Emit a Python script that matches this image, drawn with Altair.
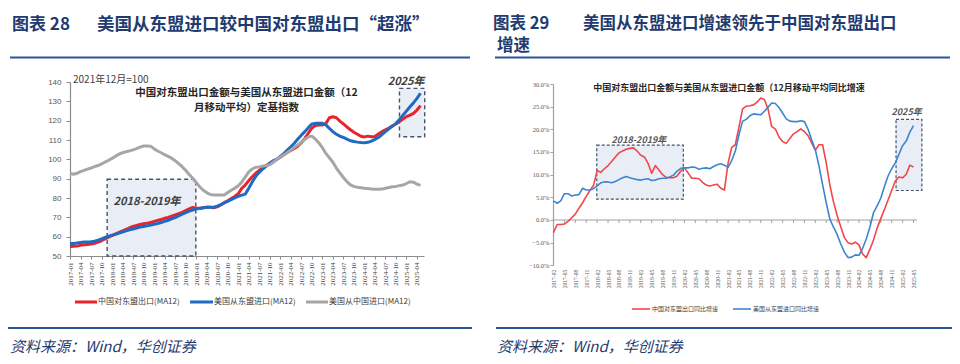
import altair as alt
import pandas as pd

# ---------------- data ----------------
# Left panel: monthly index, 2017-01 .. 2025-05 (2021-12 = 100), 12-month moving average
LEFT_MONTHS = [f"{2017 + i // 12}-{i % 12 + 1:02d}" for i in range(101)]
CN_EXPORT_ASEAN_IDX = [
    54.8, 55.0, 55.2, 55.5, 55.8, 56.0, 56.2, 56.6, 57.2, 57.9,
    58.8, 59.7, 60.6, 61.4, 62.2, 63.0, 63.8, 64.6, 65.3, 65.8,
    66.3, 66.7, 67.0, 67.4, 67.9, 68.4, 68.9, 69.5, 70.0, 70.6,
    71.2, 71.9, 72.6, 73.5, 74.4, 75.1, 74.8, 74.6, 75.0, 75.2,
    75.2, 75.0, 75.4, 76.4, 77.6, 78.6, 79.7, 80.8, 82.2, 85.0,
    86.7, 89.0, 91.0, 92.8, 94.3, 95.5, 96.8, 98.0, 99.0, 100.0,
    101.1, 102.4, 103.6, 104.6, 105.6, 106.8, 108.6, 110.8, 113.5, 116.2,
    117.5, 117.8, 117.8, 118.5, 121.5, 122.0, 121.5, 119.8, 118.3, 116.8,
    115.3, 114.0, 113.0, 111.9, 111.6, 112.0, 111.7, 111.8, 113.2, 114.3,
    115.3, 116.2, 117.3, 118.3, 119.6, 120.8, 122.1, 122.9, 123.8, 125.5,
    127.8]
US_IMPORT_ASEAN_IDX = [
    56.5, 56.5, 56.7, 57.0, 57.2, 57.3, 57.4, 57.7, 58.2, 58.8,
    59.6, 60.3, 60.8, 61.2, 61.8, 62.4, 63.0, 63.6, 64.0, 64.5,
    65.0, 65.3, 65.6, 66.0, 66.4, 66.8, 67.3, 67.9, 68.5, 69.2,
    69.9, 70.7, 71.6, 72.4, 73.2, 73.8, 74.3, 74.7, 75.0, 75.2,
    75.2, 75.2, 75.8, 76.6, 77.5, 78.3, 79.1, 80.0, 80.8, 81.5,
    82.0, 85.0, 88.3, 91.2, 93.3, 95.0, 96.5, 98.0, 99.3, 100.0,
    101.5, 103.0, 104.8, 106.5, 108.3, 110.5, 112.5, 114.3, 116.4, 118.3,
    118.6, 118.6, 118.6, 117.8, 116.0, 114.3, 113.0, 112.0, 111.3, 110.5,
    109.6, 109.2, 108.9, 108.7, 108.6, 108.8, 109.4, 110.3, 111.3, 112.8,
    114.3, 115.8, 117.2, 118.6, 120.6, 122.8, 125.0, 127.2, 129.2, 131.5,
    134.2]
US_IMPORT_CHINA_IDX = [
    92.8, 92.3, 92.8, 93.6, 94.3, 94.9, 95.5, 96.2, 96.8, 97.6,
    98.6, 99.5, 100.5, 101.6, 102.7, 103.4, 103.9, 104.4, 104.9, 105.5,
    106.3, 106.9, 106.9, 106.8, 105.4, 104.3, 103.4, 102.4, 101.5, 100.6,
    99.3, 97.8, 96.2, 94.3, 92.2, 90.2, 88.0, 85.8, 84.0, 82.8,
    81.8, 81.5, 81.5, 81.5, 81.6, 82.8, 84.0, 85.0, 86.3, 88.2,
    90.8, 93.5, 95.0, 95.9, 96.1, 96.5, 96.8, 97.2, 98.5, 100.0,
    101.2, 102.3, 103.5, 104.8, 106.2, 107.4, 108.9, 110.4, 111.6, 112.0,
    110.5, 108.5, 106.0, 103.1, 100.8, 98.5, 95.5, 93.0, 90.6, 88.5,
    86.8, 86.0, 85.6, 85.3, 85.0, 84.9, 84.7, 84.5, 84.5, 84.6,
    85.0, 85.4, 85.8, 86.0, 86.4, 86.7, 87.5, 88.4, 88.2, 87.2,
    86.5]

# Right panel: monthly YoY growth (%) of 12-month moving average, 2017-02 .. 2025-05
RIGHT_MONTHS = [f"{2017 + (i + 1) // 12}-{(i + 1) % 12 + 1:02d}" for i in range(100)]
CN_EXPORT_YOY = [
    -2.8, -1.0, -1.0, -0.9, -0.3, 0.5, 1.3, 2.6, 3.8, 5.2,
    6.5, 7.6, 10.9, 10.5, 11.3, 12.0, 12.9, 13.9, 14.8, 15.2,
    15.6, 15.8, 15.9, 15.2, 14.3, 13.9, 12.5, 10.3, 12.0, 11.0,
    10.0, 9.4, 9.3, 9.3, 9.7, 10.8, 11.5, 10.4, 9.2, 9.2,
    9.1, 8.3, 7.7, 7.5, 7.7, 7.9, 7.0, 6.6, 12.5, 16.0,
    16.6, 20.5, 24.5, 25.1, 25.2, 25.4, 26.0, 26.9, 26.6, 24.5,
    20.6, 20.1, 18.3, 17.3, 16.9, 18.0, 19.0, 19.5, 20.1, 19.5,
    18.6, 17.0, 15.4, 16.6, 16.6, 12.6, 7.7, 4.0, 1.0, -1.5,
    -3.9, -5.0, -5.3, -4.9, -5.5, -7.5, -8.3, -6.5, -4.4, -1.8,
    0.3, 2.3, 4.4, 6.5, 8.6, 9.5, 9.3, 10.1, 12.1, 11.7]
US_IMPORT_YOY = [
    4.2, 3.7, 4.2, 5.8, 5.8, 5.3, 5.5, 5.6, 7.0, 6.6,
    6.6, 6.9, 7.5, 8.2, 8.4, 8.4, 8.2, 8.5, 8.9, 9.3,
    9.6, 9.3, 9.1, 8.9, 8.8, 9.0, 9.1, 8.7, 8.8, 9.1,
    9.2, 9.2, 9.5, 9.9, 10.8, 11.4, 11.5, 11.5, 11.7, 11.6,
    11.2, 11.4, 11.5, 11.3, 11.8, 12.2, 12.4, 12.1, 11.6, 13.1,
    15.2, 18.8, 21.8, 22.2, 23.0, 23.4, 23.3, 23.2, 24.0, 24.9,
    25.8, 25.7, 24.8, 23.6, 22.3, 21.8, 21.7, 21.7, 21.9, 21.7,
    20.0, 17.7, 15.5, 12.0, 7.8, 3.8, 0.2, -1.6, -3.2, -5.3,
    -7.1, -8.3, -8.2, -7.7, -7.8, -6.3, -4.2, -1.6, 1.6, 3.1,
    4.8, 7.4, 9.7, 11.3, 12.6, 14.5, 16.4, 17.4, 19.4, 20.8]

# highlighted periods (month index from first month, value range)
LEFT_BOX_X = [10.6, 94.0]
LEFT_BOX_X2 = [35.9, 101.2]
LEFT_BOX_Y = [50.0, 111.7]
LEFT_BOX_Y2 = [89.7, 136.7]
LEFT_BOX_LABEL = ["2018-2019年", "2025年"]
LEFT_BOX_LABEL_X = [22.0, 95.9]
LEFT_BOX_LABEL_Y = [78.1, 140.2]

RIGHT_BOX_X = [11.9, 94.2]
RIGHT_BOX_X2 = [35.7, 101.3]
RIGHT_BOX_Y = [4.6, 6.5]
RIGHT_BOX_Y2 = [16.5, 22.2]
RIGHT_BOX_LABEL = ["2018-2019年", "2025年"]
RIGHT_BOX_LABEL_X = [23.5, 97.1]
RIGHT_BOX_LABEL_Y = [17.6, 23.9]

# ---------------- style ----------------
CJK = "Noto Sans CJK SC"
NAVY = "#1F3B70"
RULE_BLUE = "#2B5597"
BOX_FILL = "#E9EEF6"
BOX_STROKE = "#44546A"
ONE = pd.DataFrame({"d": [0]})

LEFT_LABEL_EXPR = ("(2017 + floor(datum.value/12)) + '-' + ((datum.value%12) < 9 ? '0' : '') "
                   "+ ((datum.value%12) + 1)")
RIGHT_LABEL_EXPR = ("(2017 + floor((datum.value+1)/12)) + '-' + (((datum.value+1)%12) < 9 ? '0' : '') "
                    "+ (((datum.value+1)%12) + 1)")


def lx():
    return alt.X("x:Q",
                 scale=alt.Scale(domain=[0, 101], range=[62, 416], nice=False, zero=False),
                 axis=alt.Axis(orient="bottom", offset=-100, values=list(range(0, 100, 3)),
                               labelExpr=LEFT_LABEL_EXPR, labelAngle=270, labelAlign="right",
                               labelBaseline="middle", labelFontSize=7, labelFont="Liberation Serif",
                               labelColor="#404040", labelPadding=3, labelOverlap=False,
                               labelFlush=False, tickSize=3, tickColor="#8c8c8c",
                               domainColor="#8c8c8c", domainWidth=1.2, grid=False, title=None))


def ly():
    return alt.Y("y:Q",
                 scale=alt.Scale(domain=[50, 140], range=[248, 74], nice=False, zero=False),
                 axis=alt.Axis(orient="left", offset=-62, values=list(range(50, 141, 10)),
                               labelFontSize=8, labelFont="Liberation Sans", labelColor="#595959",
                               labelPadding=5, tickSize=4, tickColor="#8c8c8c",
                               domainColor="#8c8c8c", domainWidth=1.2, grid=False, title=None,
                               labelOverlap=False))


def rx():
    return alt.X("x:Q",
                 scale=alt.Scale(domain=[0, 104.5], range=[545.5, 925.5], nice=False, zero=False),
                 axis=alt.Axis(orient="bottom", offset=-90.7, values=list(range(0, 100, 3)),
                               labelExpr=RIGHT_LABEL_EXPR, labelAngle=270, labelAlign="right",
                               labelBaseline="middle", labelFontSize=5.5, labelFont="Liberation Serif",
                               labelColor="#595959", labelPadding=4, labelOverlap=False,
                               labelFlush=False, domain=False, ticks=False, grid=False, title=None))


def ry():
    return alt.Y("y:Q",
                 scale=alt.Scale(domain=[-10, 30], range=[257.3, 76], nice=False, zero=False),
                 axis=alt.Axis(orient="left", offset=-545, values=list(range(-10, 31, 5)),
                               labelExpr="format(datum.value, '.1f') + '%'",
                               labelFontSize=6.5, labelFont="Liberation Serif", labelColor="#595959",
                               labelPadding=1, tickSize=3, tickColor="#a0a0a0",
                               domainColor="#a0a0a0", domainWidth=1.2, grid=False, title=None,
                               labelOverlap=False))


def series_df(values, months):
    return pd.DataFrame({"x": list(range(len(values))), "y": values, "month": months})


def label(txt, x, y, **kw):
    return alt.Chart(ONE).mark_text(**kw).encode(x=alt.value(x), y=alt.value(y), text=alt.value(txt))


def hline(x1, x2, y, color, width):
    return alt.Chart(ONE).mark_rule(color=color, strokeWidth=width).encode(
        x=alt.value(x1), x2=alt.value(x2), y=alt.value(y))


# ---------------- left panel ----------------
left_boxes = pd.DataFrame({"x": LEFT_BOX_X, "x2": LEFT_BOX_X2, "y": LEFT_BOX_Y, "y2": LEFT_BOX_Y2})
left_box_labels = pd.DataFrame({"x": LEFT_BOX_LABEL_X, "y": LEFT_BOX_LABEL_Y, "t": LEFT_BOX_LABEL})

left = alt.layer(
    alt.Chart(left_boxes).mark_rect(fill=BOX_FILL, stroke=BOX_STROKE, strokeDash=[4, 3],
                                    strokeWidth=1.4).encode(x=lx(), x2="x2:Q", y=ly(), y2="y2:Q"),
    alt.Chart(series_df(CN_EXPORT_ASEAN_IDX, LEFT_MONTHS)).mark_line(
        color="#E8232B", strokeWidth=3, strokeJoin="round").encode(x=lx(), y=ly()),
    alt.Chart(series_df(US_IMPORT_ASEAN_IDX, LEFT_MONTHS)).mark_line(
        color="#1F6BC4", strokeWidth=3, strokeJoin="round").encode(x=lx(), y=ly()),
    alt.Chart(series_df(US_IMPORT_CHINA_IDX, LEFT_MONTHS)).mark_line(
        color="#A6A6A6", strokeWidth=3, strokeJoin="round").encode(x=lx(), y=ly()),
    alt.Chart(left_box_labels).mark_text(font=CJK, fontSize=11, fontStyle="italic",
                                         fontWeight="bold", color="#404040").encode(
        x=lx(), y=ly(), text="t:N"),
)

# ---------------- right panel ----------------
right_boxes = pd.DataFrame({"x": RIGHT_BOX_X, "x2": RIGHT_BOX_X2, "y": RIGHT_BOX_Y, "y2": RIGHT_BOX_Y2})
right_box_labels = pd.DataFrame({"x": RIGHT_BOX_LABEL_X, "y": RIGHT_BOX_LABEL_Y, "t": RIGHT_BOX_LABEL})
right_ticks = pd.DataFrame({"x": list(range(0, 100, 3))})

right = alt.layer(
    alt.Chart(right_boxes).mark_rect(fill=BOX_FILL, stroke=BOX_STROKE, strokeDash=[3, 2],
                                     strokeWidth=1.2).encode(x=rx(), x2="x2:Q", y=ry(), y2="y2:Q"),
    alt.Chart(ONE).mark_rule(color="#a0a0a0", strokeWidth=1.2).encode(
        y=alt.datum(0), x=alt.value(545), x2=alt.value(909)),
    alt.Chart(right_ticks).mark_rule(color="#a0a0a0", strokeWidth=1).encode(
        x=rx(), y=alt.datum(0), y2=alt.value(215)),
    alt.Chart(series_df(CN_EXPORT_YOY, RIGHT_MONTHS)).mark_line(
        color="#F0464C", strokeWidth=1.6, strokeJoin="round").encode(x=rx(), y=ry()),
    alt.Chart(series_df(US_IMPORT_YOY, RIGHT_MONTHS)).mark_line(
        color="#3C86D0", strokeWidth=1.6, strokeJoin="round").encode(x=rx(), y=ry()),
    alt.Chart(right_box_labels).mark_text(font=CJK, fontSize=9, fontStyle="italic",
                                          fontWeight="bold", color="#595959").encode(
        x=rx(), y=ry(), text="t:N"),
)

# ---------------- headers, titles, legends, footers ----------------
decor = alt.layer(
    # headers
    label("图表 28", 4, 17, font=CJK, fontSize=17, fontWeight="bold", color=NAVY, align="left", baseline="middle"),
    label("美国从东盟进口较中国对东盟出口“超涨”", 89, 17, font=CJK, fontSize=17.5, fontWeight="bold",
          color=NAVY, align="left", baseline="middle"),
    hline(2, 462, 49.5, RULE_BLUE, 2),
    label("图表 29", 485, 16, font=CJK, fontSize=16.5, fontWeight="bold", color=NAVY, align="left", baseline="middle"),
    label("美国从东盟进口增速领先于中国对东盟出口", 575, 16, font=CJK, fontSize=16.5, fontWeight="bold",
          color=NAVY, align="left", baseline="middle"),
    label("增速", 489, 38, font=CJK, fontSize=16.5, fontWeight="bold", color=NAVY, align="left", baseline="middle"),
    hline(487, 942, 49.5, RULE_BLUE, 2),
    # left chart inner texts
    label("2021年12月=100", 65, 72, font=CJK, fontSize=10, color="#404040", align="left", baseline="middle"),
    label("中国对东盟出口金额与美国从东盟进口金额（12", 238.5, 84.5, font=CJK, fontSize=10.5,
          fontWeight="bold", color="#262626", align="center", baseline="middle"),
    label("月移动平均）定基指数", 238.5, 99.5, font=CJK, fontSize=10.5,
          fontWeight="bold", color="#262626", align="center", baseline="middle"),
    # right chart inner title
    label("中国对东盟出口金额与美国从东盟进口金额（12月移动平均同比增速", 721, 80, font=CJK, fontSize=9,
          fontWeight="bold", color="#262626", align="center", baseline="middle"),
    # left legend
    hline(67, 89, 294, "#E8232B", 3),
    label("中国对东盟出口(MA12)", 90, 294, font=CJK, fontSize=8, color="#404040", align="left", baseline="middle"),
    hline(182, 205, 294, "#1F6BC4", 3),
    label("美国从东盟进口(MA12)", 206, 294, font=CJK, fontSize=8, color="#404040", align="left", baseline="middle"),
    hline(298, 320, 294, "#A6A6A6", 3),
    label("美国从中国进口(MA12)", 321, 294, font=CJK, fontSize=8, color="#404040", align="left", baseline="middle"),
    # right legend
    hline(624, 642, 301, "#F0464C", 1.6),
    label("中国对东盟出口同比增速", 644, 301, font=CJK, fontSize=6, color="#404040", align="left", baseline="middle"),
    hline(725, 743, 301, "#3C86D0", 1.6),
    label("美国从东盟进口同比增速", 745, 301, font=CJK, fontSize=6, color="#404040", align="left", baseline="middle"),
    # footers
    hline(0, 464, 320, RULE_BLUE, 2),
    hline(488, 944, 320, RULE_BLUE, 2),
    label("资料来源：Wind，华创证券", 2, 339, font=CJK, fontSize=15, fontStyle="italic", color=NAVY,
          align="left", baseline="middle"),
    label("资料来源：Wind，华创证券", 489, 339, font=CJK, fontSize=15, fontStyle="italic", color=NAVY,
          align="left", baseline="middle"),
)

chart = alt.layer(left, right, decor).resolve_scale(
    x="independent", y="independent"
).properties(
    width=944, height=348, padding=0,
    autosize=alt.AutoSizeParams(type="none"),
    background="white",
).configure_view(stroke=None)

chart.save("out.html", embed_options={"renderer": "svg", "actions": False})
